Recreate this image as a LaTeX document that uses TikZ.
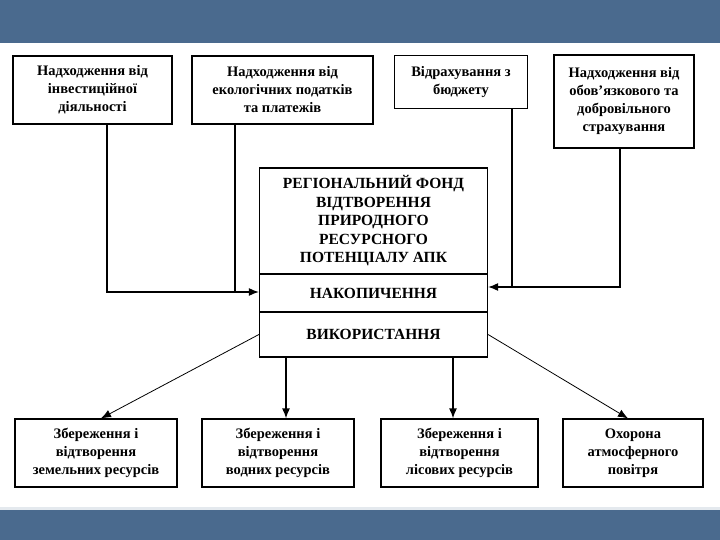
\documentclass[tikz,border=0pt]{standalone}
\usepackage{fontspec}
\setmainfont{Liberation Serif}
\usetikzlibrary{arrows.meta}

\definecolor{banner}{HTML}{4A6A8E}
\tikzset{
  box/.style={draw, line width=1.2pt, fill=white, align=center, inner sep=0pt,
    font=\bfseries\fontsize{14.5}{18}\selectfont},
  bigbox/.style={box, minimum width=228pt, font=\bfseries\fontsize{15.5}{18.5}\selectfont},
  link/.style={black, line width=1.3pt},
  arr/.style={link, -{Latex[length=10pt,width=8pt]}},
  thinarr/.style={black, line width=0.8pt, -{Latex[length=10pt,width=8pt]}}
}

\begin{document}
\begin{tikzpicture}[x=1pt, y=-1pt]
        \useasboundingbox (0,0) rectangle (720,540);
        \fill[banner] (0,0) rectangle (720,43);
        \fill[banner!15] (0,507) rectangle (720,510);
        \fill[banner] (0,510) rectangle (720,540);

        % sources
        \node[box, minimum width=159pt, minimum height=68pt] (invest) at (92.5, 90) {Надходження від\\інвестиційної\\діяльності};
        \node[box, minimum width=181pt, minimum height=68pt] (ecotax) at (282.5, 90) {Надходження від\\екологічних податків\\та платежів};
        \node[box, minimum width=133pt, minimum height=53pt] (budget) at (461, 82) {Відрахування з\\бюджету};
        \node[box, minimum width=140pt, minimum height=93pt] (insur) at (624, 101.5) {Надходження від\\обов'язкового та\\добровільного\\страхування};

        % fund
        \node[bigbox, minimum height=106pt] (fund) at (373.5, 221) {РЕГІОНАЛЬНИЙ ФОНД\\ВІДТВОРЕННЯ\\ПРИРОДНОГО\\РЕСУРСНОГО\\ПОТЕНЦІАЛУ АПК};
        \node[bigbox, minimum height=38pt] (accum) at (373.5, 293) {НАКОПИЧЕННЯ};
        \node[bigbox, minimum height=45pt] (use) at (373.5, 334.5) {ВИКОРИСТАННЯ};

        % targets
        \node[box, minimum width=162pt, minimum height=68pt] (land) at (96, 453) {Збереження і\\відтворення\\земельних ресурсів};
        \node[box, minimum width=152pt, minimum height=68pt] (water) at (278, 453) {Збереження і\\відтворення\\водних ресурсів};
        \node[box, minimum width=157pt, minimum height=68pt] (forest) at (459.5, 453) {Збереження і\\відтворення\\лісових ресурсів};
        \node[box, minimum width=140pt, minimum height=68pt] (air) at (633, 453) {Охорона\\атмосферного\\повітря};

        \coordinate (inL) at (accum.west |- 0,292);
        \coordinate (inR) at (accum.east |- 0,287);

        \draw[arr] ([xshift=14.5pt]invest.south) |- (inL);
        \draw[link] ([xshift=-47.5pt]ecotax.south) -- ([xshift=-47.5pt]ecotax.south |- inL);
        \draw[arr] ([xshift=-4pt]insur.south) |- (inR);
        \draw[link] ([xshift=51pt]budget.south) -- ([xshift=51pt]budget.south |- inR);

        \draw[thinarr] (use.west) -- ([xshift=5pt]land.north);
        \draw[arr] ([xshift=-87.5pt]use.south) -- ([xshift=-87.5pt]use.south |- water.north);
        \draw[arr] ([xshift=79.5pt]use.south) -- ([xshift=79.5pt]use.south |- forest.north);
        \draw[thinarr] (use.east) -- ([xshift=-5pt]air.north);
\end{tikzpicture}
\end{document}
